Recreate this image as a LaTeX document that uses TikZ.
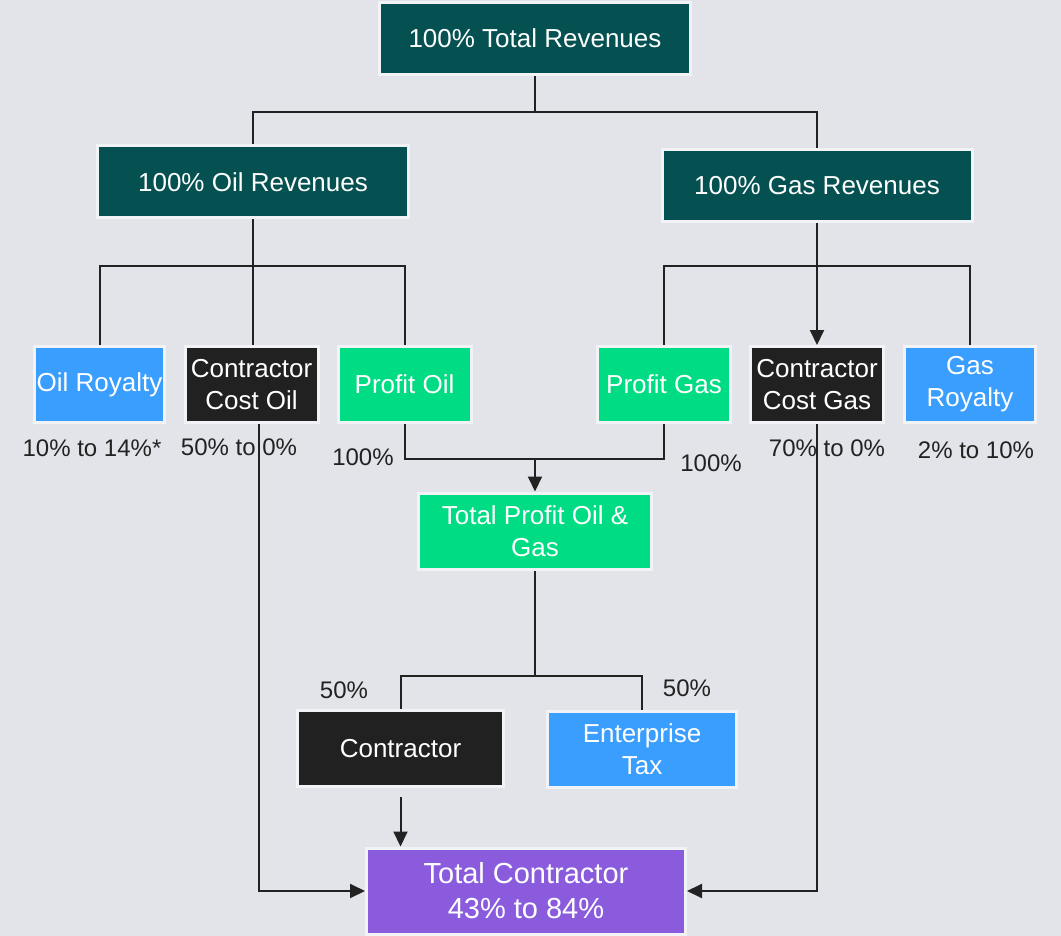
\documentclass[tikz,border=0pt]{standalone}
\usepackage{fontspec}
\setmainfont{Liberation Sans}
\usetikzlibrary{arrows.meta}

\definecolor{pagebg}{HTML}{E3E4E9}
\definecolor{boxrim}{HTML}{F2F3F6}
\definecolor{revteal}{HTML}{055151}
\definecolor{costblack}{HTML}{212121}
\definecolor{profitgreen}{HTML}{00DC84}
\definecolor{royblue}{HTML}{3A9EFF}
\definecolor{totpurple}{HTML}{8A5CDD}
\definecolor{linkgray}{HTML}{222222}

\begin{document}
\begin{tikzpicture}[x=1pt, y=-1pt,
    box/.style={rectangle, draw=boxrim, line width=3pt, text=white, align=center,
        inner sep=0pt, font=\fontsize{26}{32}\selectfont},
    revbox/.style={box, fill=revteal, minimum width=311, minimum height=72},
    smallbox/.style={box, minimum width=133, minimum height=76},
    link/.style={draw=linkgray, line width=2pt},
    arrowlink/.style={link, -{Triangle[length=15pt, width=14pt]}},
    pct/.style={text=linkgray, font=\fontsize{24}{28}\selectfont}]

% page
\fill[pagebg] (0,0) rectangle (1061,936);
\useasboundingbox (0,0) rectangle (1061,936);

% Revenues
\node[revbox] (tot) at (535,38.5) {100\% Total Revenues};
\node[revbox] (oil) at (253,182) {100\% Oil Revenues};
\node[revbox, minimum width=310] (gas) at (817,185.5) {100\% Gas Revenues};

% Oil split
\node[smallbox, fill=royblue, minimum width=130] (oroy) at (99.5,384.5) {Oil Royalty};
\node[smallbox, fill=costblack] (cco) at (251.5,384.5) {Contractor\\Cost Oil};
\node[smallbox, fill=profitgreen] (poil) at (404.5,384.5) {Profit Oil};

% Gas split
\node[smallbox, fill=profitgreen] (pgas) at (664,384.5) {Profit Gas};
\node[smallbox, fill=costblack] (ccg) at (817,384.5) {Contractor\\Cost Gas};
\node[smallbox, fill=royblue, minimum width=131] (groy) at (970,384.5) {Gas\\Royalty};

% Shares
\node[pct] (l1) at (92,448) {10\% to 14\%*};
\node[pct] (l2) at (239,447) {50\% to 0\%};
\node[pct] (l3) at (363,457) {100\%};
\node[pct] (l4) at (711,463) {100\%};
\node[pct] (l5) at (827,448) {70\% to 0\%};
\node[pct] (l6) at (976,450) {2\% to 10\%};

% Profit and tax
\node[box, fill=profitgreen, minimum width=233, minimum height=76] (tpog) at (535,531) {Total Profit Oil \&\\Gas};
\node[box, fill=costblack, minimum width=206, minimum height=76] (con) at (400.5,748.5) {Contractor};
\node[box, fill=royblue, minimum width=189, minimum height=76] (etax) at (642,749.5) {Enterprise\\Tax};
\node[pct] (l7) at (344,690) {50\%};
\node[pct] (l8) at (687,688) {50\%};

\node[box, fill=totpurple, minimum width=319, minimum height=86, font=\fontsize{29}{35}\selectfont] (tcon) at (526,891) {Total Contractor\\43\% to 84\%};

% Junctions
\coordinate (j1) at (535,112);
\coordinate (j2) at (253,266);
\coordinate (j3) at (817,266);
\coordinate (j4) at (535,459);
\coordinate (j5) at (535,676);

% Connectors
\draw[link] (tot.south) -- (j1);
\draw[link] (oil.north) |- (j1) -| (gas.north);

\draw[link] (oil.south) -- (j2);
\draw[link] (oroy.north) |- (j2) -| (poil.north);
\draw[link] (cco.north -| j2) -- (j2);

\draw[arrowlink] (gas.south) -- (ccg.north);
\draw[link] (pgas.north) |- (j3) -| (groy.north);

\draw[link] (poil.south) |- (j4) -| (pgas.south);
\draw[arrowlink] (j4) -- (tpog.north);

\draw[link] (tpog.south) -- (j5);
\draw[link] (con.north) |- (j5) -| (etax.north);

\draw[arrowlink] ([yshift=-9pt]con.south) -- (con.south |- tcon.north);
\draw[arrowlink] ([xshift=7pt]cco.south) |- (tcon.west);
\draw[arrowlink] (ccg.south) |- (tcon.east);
\end{tikzpicture}
\end{document}
